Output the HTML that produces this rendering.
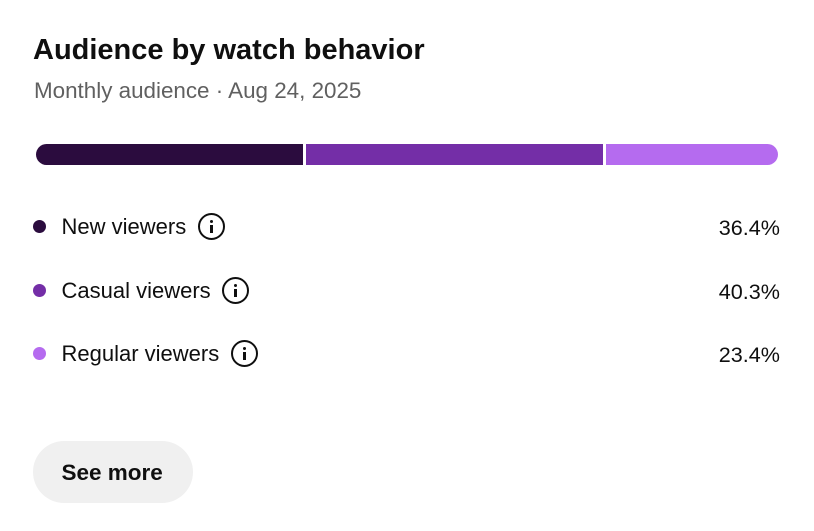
<!DOCTYPE html>
<html>
<head>
<meta charset="utf-8">
<style>
  html,body{margin:0;padding:0;background:#fff;}
  body{width:814px;height:531px;position:relative;overflow:hidden;font-family:"Liberation Sans",Arial,sans-serif;color:#0f0f0f;}
  .abs{position:absolute;white-space:nowrap;}
  .title{left:33px;top:35.5px;font-size:29px;line-height:29px;font-weight:bold;}
  .sub{left:34px;top:80.3px;font-size:22.4px;line-height:22.4px;color:#606060;}
  .bar{position:absolute;top:144px;height:21px;}
  .row{position:absolute;left:0;width:814px;height:30px;}
  .dot{position:absolute;left:33px;width:13px;height:13px;border-radius:50%;}
  .lbl{position:absolute;left:61.5px;font-size:22px;line-height:22px;display:flex;align-items:center;}
  .info{display:inline-block;width:23px;height:23px;border:2px solid #0f0f0f;border-radius:50%;position:relative;margin-left:11.5px;}
  .info:before{content:"";position:absolute;left:10px;top:5px;width:3.2px;height:3.2px;background:#0f0f0f;border-radius:50%;}
  .info:after{content:"";position:absolute;left:10px;top:10px;width:3.2px;height:8px;background:#0f0f0f;}
  .pct{position:absolute;right:34px;font-size:21.6px;line-height:22px;}
  .btn{position:absolute;left:33px;top:441px;width:160px;height:62px;border-radius:31px;background:#f0f0f0;}
  .btntxt{left:61.5px;top:462px;font-size:22.5px;line-height:22.5px;font-weight:bold;}
</style>
</head>
<body>
  <div class="abs title">Audience by watch behavior</div>
  <div class="abs sub">Monthly audience · Aug 24, 2025</div>

  <div class="bar" style="left:36px;width:267px;background:#2b0c3e;border-radius:10.5px 0 0 10.5px;"></div>
  <div class="bar" style="left:306px;width:297px;background:#742ea7;"></div>
  <div class="bar" style="left:606px;width:172px;background:#b56bef;border-radius:0 10.5px 10.5px 0;"></div>

  <!-- Row 1 -->
  <div class="dot" style="top:219.5px;background:#2b0c3e;"></div>
  <div class="lbl" style="top:212.5px;height:27px;"><span style="position:relative;top:0.5px">New viewers</span><span class="info"></span></div>
  <div class="pct abs" style="top:216.5px;">36.4%</div>

  <!-- Row 2 -->
  <div class="dot" style="top:283.5px;background:#742ea7;"></div>
  <div class="lbl" style="top:276.5px;height:27px;"><span style="position:relative;top:0.5px">Casual viewers</span><span class="info"></span></div>
  <div class="pct abs" style="top:280.5px;">40.3%</div>

  <!-- Row 3 -->
  <div class="dot" style="top:346.5px;background:#b56bef;"></div>
  <div class="lbl" style="top:339.5px;height:27px;"><span style="position:relative;top:0.5px">Regular viewers</span><span class="info"></span></div>
  <div class="pct abs" style="top:343.5px;">23.4%</div>

  <div class="btn"></div>
  <div class="abs btntxt">See more</div>
</body>
</html>
